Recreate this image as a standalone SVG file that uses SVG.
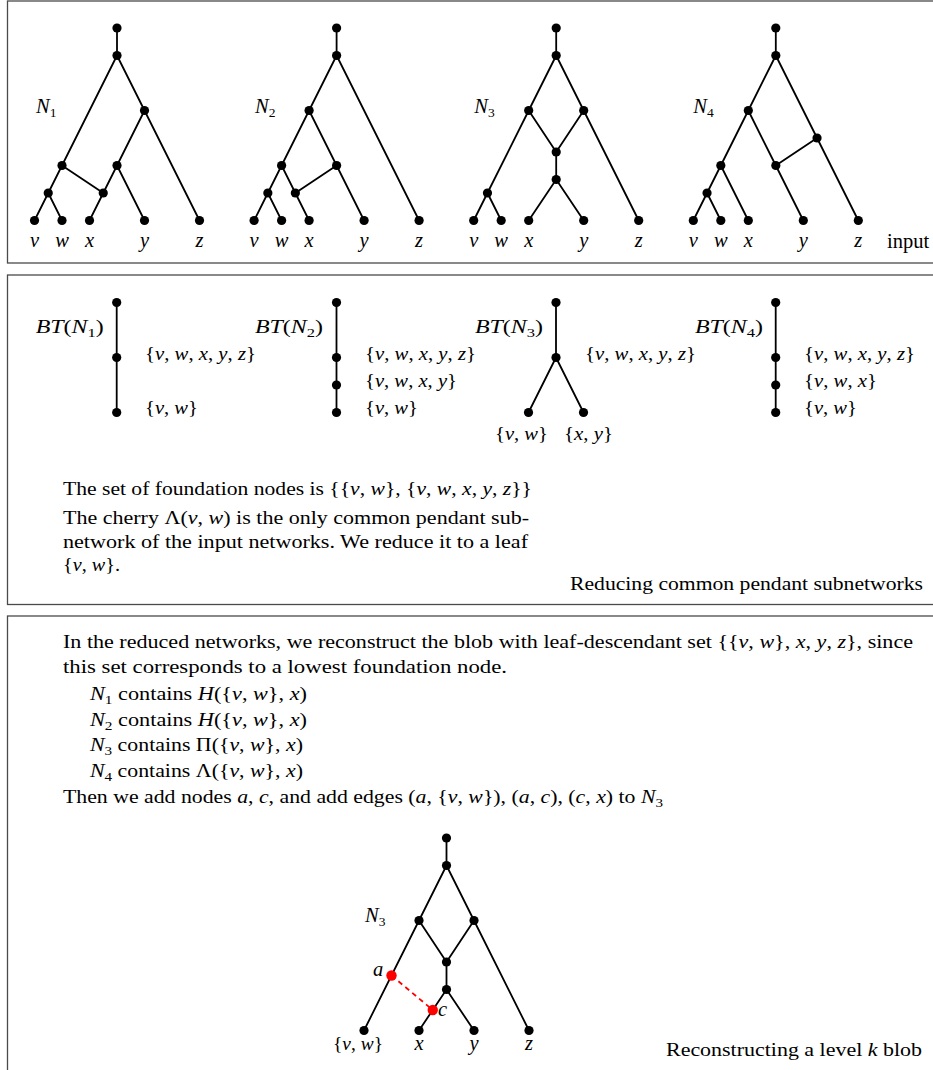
<svg xmlns="http://www.w3.org/2000/svg" width="933" height="1070" viewBox="0 0 933 1070">
<style>
text{font-family:"Liberation Serif",serif;font-size:19.5px;fill:#000}
.i{font-style:italic}
.s{font-size:13.5px}
.m{text-anchor:middle}
.big{font-size:20.5px}
.e{stroke:#000;stroke-width:1.8;fill:none;stroke-linecap:round}
.d{fill:#000}
.r{fill:#ff0000}
.frame{fill:none;stroke:#4a4a4a;stroke-width:1.3}
</style>
<defs>
<circle id="dot" r="4.6" class="d"/>
</defs>
<rect class="frame" x="7.5" y="1" width="1000" height="262"/>
<rect class="frame" x="7.5" y="275" width="1000" height="329.5"/>
<rect class="frame" x="7.5" y="616" width="1000" height="500"/>

<g id="connectors">
<g transform="translate(0,0)">
<path class="e" d="M117,28V55.5 M117,55.5L62,165.5 M117,55.5L144.5,110.5 M144.5,110.5L117,165.5 M144.5,110.5L199.5,220.5 M117,165.5L103.25,193 M117,165.5L144.5,220.5 M62,165.5L48.25,193 M62,165.5L103.25,193 M48.25,193L34.5,220.5 M48.25,193L62,220.5 M103.25,193L89.5,220.5"/>
</g>
<g transform="translate(219.6,0)">
<path class="e" d="M117,28V55.5 M117,55.5L89.5,110.5 M117,55.5L199.5,220.5 M89.5,110.5L62,165.5 M89.5,110.5L117,165.5 M62,165.5L48.25,193 M62,165.5L75.75,193 M117,165.5L75.75,193 M117,165.5L144.5,220.5 M48.25,193L34.5,220.5 M48.25,193L62,220.5 M75.75,193L89.5,220.5"/>
</g>
<g transform="translate(439.2,0)">
<path class="e" d="M117,28V55.5 M117,55.5L89.5,110.5 M117,55.5L144.5,110.5 M89.5,110.5L48.25,193 M89.5,110.5L117,152 M144.5,110.5L117,152 M144.5,110.5L199.5,220.5 M117,152V179.5 M117,179.5L89.5,220.5 M117,179.5L144.5,220.5 M48.25,193L34.5,220.5 M48.25,193L62,220.5"/>
</g>
<g transform="translate(658.8,0)">
<path class="e" d="M117,28V55.5 M117,55.5L89.5,110.5 M117,55.5L199.5,220.5 M158.25,138L117,165.5 M89.5,110.5L62,165.5 M89.5,110.5L117,165.5 M117,165.5L144.5,220.5 M62,165.5L48.25,193 M62,165.5L89.5,220.5 M48.25,193L34.5,220.5 M48.25,193L62,220.5"/>
</g>
<path class="e" d="M116.7,302.5V412.5 M336.5,302.5V412.5 M556,302.5V357.5 M556,357.5L528.5,412.5 M556,357.5L583.5,412.5 M775.7,302.5V412.5"/>
<g transform="translate(329.5,810)">
<path class="e" d="M117,28V55.5 M117,55.5L89.5,110.5 M117,55.5L144.5,110.5 M89.5,110.5L34.5,220.5 M89.5,110.5L117,152 M144.5,110.5L117,152 M144.5,110.5L199.5,220.5 M117,152V179.5 M117,179.5L89.5,220.5 M117,179.5L144.5,220.5"/>
</g>
<path d="M391.5,975.5L432.75,1010" fill="none" stroke="#ff0000" stroke-width="1.8" stroke-dasharray="5,4"/>
</g>

<g id="N1" transform="translate(0,0)">
<use href="#dot" x="117" y="28"/><use href="#dot" x="117" y="55.5"/><use href="#dot" x="144.5" y="110.5"/><use href="#dot" x="62" y="165.5"/><use href="#dot" x="117" y="165.5"/><use href="#dot" x="48.25" y="193"/><use href="#dot" x="103.25" y="193"/>
<use href="#dot" x="34.5" y="220.5"/><use href="#dot" x="62" y="220.5"/><use href="#dot" x="89.5" y="220.5"/><use href="#dot" x="144.5" y="220.5"/><use href="#dot" x="199.5" y="220.5"/>
<text class="big" x="36" y="113"><tspan class="i">N</tspan><tspan class="s" dy="4">1</tspan></text>
<text class="i m big" x="34.5" y="247">v</text><text class="i m big" x="62" y="247">w</text><text class="i m big" x="89.5" y="247">x</text><text class="i m big" x="144.5" y="247">y</text><text class="i m big" x="199.5" y="247">z</text>
</g>
<g id="N2" transform="translate(219.6,0)">
<use href="#dot" x="117" y="28"/><use href="#dot" x="117" y="55.5"/><use href="#dot" x="89.5" y="110.5"/><use href="#dot" x="62" y="165.5"/><use href="#dot" x="117" y="165.5"/><use href="#dot" x="48.25" y="193"/><use href="#dot" x="75.75" y="193"/>
<use href="#dot" x="34.5" y="220.5"/><use href="#dot" x="62" y="220.5"/><use href="#dot" x="89.5" y="220.5"/><use href="#dot" x="144.5" y="220.5"/><use href="#dot" x="199.5" y="220.5"/>
<text class="big" x="35.4" y="113"><tspan class="i">N</tspan><tspan class="s" dy="4">2</tspan></text>
<text class="i m big" x="34.5" y="247">v</text><text class="i m big" x="62" y="247">w</text><text class="i m big" x="89.5" y="247">x</text><text class="i m big" x="144.5" y="247">y</text><text class="i m big" x="199.5" y="247">z</text>
</g>
<g id="N3" transform="translate(439.2,0)">
<use href="#dot" x="117" y="28"/><use href="#dot" x="117" y="55.5"/><use href="#dot" x="89.5" y="110.5"/><use href="#dot" x="144.5" y="110.5"/><use href="#dot" x="117" y="152"/><use href="#dot" x="117" y="179.5"/><use href="#dot" x="48.25" y="193"/>
<use href="#dot" x="34.5" y="220.5"/><use href="#dot" x="62" y="220.5"/><use href="#dot" x="89.5" y="220.5"/><use href="#dot" x="144.5" y="220.5"/><use href="#dot" x="199.5" y="220.5"/>
<text class="big" x="35" y="113"><tspan class="i">N</tspan><tspan class="s" dy="4">3</tspan></text>
<text class="i m big" x="34.5" y="247">v</text><text class="i m big" x="62" y="247">w</text><text class="i m big" x="89.5" y="247">x</text><text class="i m big" x="144.5" y="247">y</text><text class="i m big" x="199.5" y="247">z</text>
</g>
<g id="N4" transform="translate(658.8,0)">
<use href="#dot" x="117" y="28"/><use href="#dot" x="117" y="55.5"/><use href="#dot" x="89.5" y="110.5"/><use href="#dot" x="158.25" y="138"/><use href="#dot" x="117" y="165.5"/><use href="#dot" x="62" y="165.5"/><use href="#dot" x="48.25" y="193"/>
<use href="#dot" x="34.5" y="220.5"/><use href="#dot" x="62" y="220.5"/><use href="#dot" x="89.5" y="220.5"/><use href="#dot" x="144.5" y="220.5"/><use href="#dot" x="199.5" y="220.5"/>
<text class="big" x="34.5" y="113"><tspan class="i">N</tspan><tspan class="s" dy="4">4</tspan></text>
<text class="i m big" x="34.5" y="247">v</text><text class="i m big" x="62" y="247">w</text><text class="i m big" x="89.5" y="247">x</text><text class="i m big" x="144.5" y="247">y</text><text class="i m big" x="199.5" y="247">z</text>
</g>
<text id="lbl-input" class="big" x="887" y="248">input</text>

<g id="BT1">
<use href="#dot" x="116.7" y="302.5"/><use href="#dot" x="116.7" y="357.5"/><use href="#dot" x="116.7" y="412.5"/>
<text x="35.7" y="333" textLength="68" lengthAdjust="spacingAndGlyphs"><tspan class="i">BT</tspan>(<tspan class="i">N</tspan><tspan class="s" dy="4">1</tspan><tspan dy="-4">)</tspan></text>
<text x="145" y="360" textLength="111" lengthAdjust="spacingAndGlyphs">{<tspan class="i">v</tspan>, <tspan class="i">w</tspan>, <tspan class="i">x</tspan>, <tspan class="i">y</tspan>, <tspan class="i">z</tspan>}</text>
<text x="145" y="414" textLength="53" lengthAdjust="spacingAndGlyphs">{<tspan class="i">v</tspan>, <tspan class="i">w</tspan>}</text>
</g>
<g id="BT2">
<use href="#dot" x="336.5" y="302.5"/><use href="#dot" x="336.5" y="357.5"/><use href="#dot" x="336.5" y="385"/><use href="#dot" x="336.5" y="412.5"/>
<text x="255" y="333" textLength="68" lengthAdjust="spacingAndGlyphs"><tspan class="i">BT</tspan>(<tspan class="i">N</tspan><tspan class="s" dy="4">2</tspan><tspan dy="-4">)</tspan></text>
<text x="365" y="360" textLength="111" lengthAdjust="spacingAndGlyphs">{<tspan class="i">v</tspan>, <tspan class="i">w</tspan>, <tspan class="i">x</tspan>, <tspan class="i">y</tspan>, <tspan class="i">z</tspan>}</text>
<text x="365" y="387" textLength="92" lengthAdjust="spacingAndGlyphs">{<tspan class="i">v</tspan>, <tspan class="i">w</tspan>, <tspan class="i">x</tspan>, <tspan class="i">y</tspan>}</text>
<text x="365" y="414" textLength="53" lengthAdjust="spacingAndGlyphs">{<tspan class="i">v</tspan>, <tspan class="i">w</tspan>}</text>
</g>
<g id="BT3">
<use href="#dot" x="556" y="302.5"/><use href="#dot" x="556" y="357.5"/><use href="#dot" x="528.5" y="412.5"/><use href="#dot" x="583.5" y="412.5"/>
<text x="475" y="333" textLength="68" lengthAdjust="spacingAndGlyphs"><tspan class="i">BT</tspan>(<tspan class="i">N</tspan><tspan class="s" dy="4">3</tspan><tspan dy="-4">)</tspan></text>
<text x="585" y="360" textLength="111" lengthAdjust="spacingAndGlyphs">{<tspan class="i">v</tspan>, <tspan class="i">w</tspan>, <tspan class="i">x</tspan>, <tspan class="i">y</tspan>, <tspan class="i">z</tspan>}</text>
<text x="495" y="440" textLength="53" lengthAdjust="spacingAndGlyphs">{<tspan class="i">v</tspan>, <tspan class="i">w</tspan>}</text>
<text x="564" y="440" textLength="49" lengthAdjust="spacingAndGlyphs">{<tspan class="i">x</tspan>, <tspan class="i">y</tspan>}</text>
</g>
<g id="BT4">
<use href="#dot" x="775.7" y="302.5"/><use href="#dot" x="775.7" y="357.5"/><use href="#dot" x="775.7" y="385"/><use href="#dot" x="775.7" y="412.5"/>
<text x="695" y="333" textLength="68" lengthAdjust="spacingAndGlyphs"><tspan class="i">BT</tspan>(<tspan class="i">N</tspan><tspan class="s" dy="4">4</tspan><tspan dy="-4">)</tspan></text>
<text x="804" y="360" textLength="111" lengthAdjust="spacingAndGlyphs">{<tspan class="i">v</tspan>, <tspan class="i">w</tspan>, <tspan class="i">x</tspan>, <tspan class="i">y</tspan>, <tspan class="i">z</tspan>}</text>
<text x="804" y="387" textLength="73" lengthAdjust="spacingAndGlyphs">{<tspan class="i">v</tspan>, <tspan class="i">w</tspan>, <tspan class="i">x</tspan>}</text>
<text x="804" y="414" textLength="53" lengthAdjust="spacingAndGlyphs">{<tspan class="i">v</tspan>, <tspan class="i">w</tspan>}</text>
</g>
<g id="mid-text">
<text x="63" y="495" textLength="469" lengthAdjust="spacingAndGlyphs">The set of foundation nodes is {{<tspan class="i">v</tspan>, <tspan class="i">w</tspan>}, {<tspan class="i">v</tspan>, <tspan class="i">w</tspan>, <tspan class="i">x</tspan>, <tspan class="i">y</tspan>, <tspan class="i">z</tspan>}}</text>
<text x="63" y="524" textLength="466" lengthAdjust="spacingAndGlyphs">The cherry Λ(<tspan class="i">v</tspan>, <tspan class="i">w</tspan>) is the only common pendant sub-</text>
<text x="63" y="547.5" textLength="465" lengthAdjust="spacingAndGlyphs">network of the input networks. We reduce it to a leaf</text>
<text x="63" y="571" textLength="57" lengthAdjust="spacingAndGlyphs">{<tspan class="i">v</tspan>, <tspan class="i">w</tspan>}.</text>
<text x="570" y="590" textLength="353" lengthAdjust="spacingAndGlyphs">Reducing common pendant subnetworks</text>
</g>

<g id="bottom-text">
<text x="63" y="648" textLength="850" lengthAdjust="spacingAndGlyphs">In the reduced networks, we reconstruct the blob with leaf-descendant set {{<tspan class="i">v</tspan>, <tspan class="i">w</tspan>}, <tspan class="i">x</tspan>, <tspan class="i">y</tspan>, <tspan class="i">z</tspan>}, since</text>
<text x="63" y="673" textLength="444" lengthAdjust="spacingAndGlyphs">this set corresponds to a lowest foundation node.</text>
<text x="90" y="699.5" textLength="217" lengthAdjust="spacingAndGlyphs"><tspan class="i">N</tspan><tspan class="s" dy="4">1</tspan><tspan dy="-4"> contains </tspan><tspan class="i">H</tspan>({<tspan class="i">v</tspan>, <tspan class="i">w</tspan>}, <tspan class="i">x</tspan>)</text>
<text x="90" y="725.5" textLength="217" lengthAdjust="spacingAndGlyphs"><tspan class="i">N</tspan><tspan class="s" dy="4">2</tspan><tspan dy="-4"> contains </tspan><tspan class="i">H</tspan>({<tspan class="i">v</tspan>, <tspan class="i">w</tspan>}, <tspan class="i">x</tspan>)</text>
<text x="90" y="751" textLength="213" lengthAdjust="spacingAndGlyphs"><tspan class="i">N</tspan><tspan class="s" dy="4">3</tspan><tspan dy="-4"> contains </tspan>Π({<tspan class="i">v</tspan>, <tspan class="i">w</tspan>}, <tspan class="i">x</tspan>)</text>
<text x="90" y="777" textLength="213" lengthAdjust="spacingAndGlyphs"><tspan class="i">N</tspan><tspan class="s" dy="4">4</tspan><tspan dy="-4"> contains </tspan>Λ({<tspan class="i">v</tspan>, <tspan class="i">w</tspan>}, <tspan class="i">x</tspan>)</text>
<text x="63" y="802.5" textLength="600" lengthAdjust="spacingAndGlyphs">Then we add nodes <tspan class="i">a</tspan>, <tspan class="i">c</tspan>, and add edges (<tspan class="i">a</tspan>, {<tspan class="i">v</tspan>, <tspan class="i">w</tspan>}), (<tspan class="i">a</tspan>, <tspan class="i">c</tspan>), (<tspan class="i">c</tspan>, <tspan class="i">x</tspan>) to <tspan class="i">N</tspan><tspan class="s" dy="4">3</tspan></text>
<text x="666" y="1056" textLength="256" lengthAdjust="spacingAndGlyphs">Reconstructing a level <tspan class="i">k</tspan> blob</text>
</g>
<g id="N3-reconstructed">
<use href="#dot" x="446.5" y="838"/><use href="#dot" x="446.5" y="865.5"/><use href="#dot" x="419" y="920.5"/><use href="#dot" x="474" y="920.5"/><use href="#dot" x="446.5" y="962"/><use href="#dot" x="446.5" y="989.5"/>
<use href="#dot" x="364" y="1030.5"/><use href="#dot" x="419" y="1030.5"/><use href="#dot" x="474" y="1030.5"/><use href="#dot" x="529" y="1030.5"/>
<circle id="node-a" class="r" cx="391.5" cy="975.5" r="5.2"/>
<circle id="node-c" class="r" cx="432.75" cy="1010" r="5.2"/>
<text class="big" x="365" y="922"><tspan class="i">N</tspan><tspan class="s" dy="4">3</tspan></text>
<text class="i big" x="373" y="976">a</text>
<text class="i big" x="438" y="1016">c</text>
<text x="333" y="1050" textLength="50" lengthAdjust="spacingAndGlyphs">{<tspan class="i">v</tspan>, <tspan class="i">w</tspan>}</text>
<text class="i m big" x="419" y="1050">x</text><text class="i m big" x="474" y="1050">y</text><text class="i m big" x="529" y="1050">z</text>
</g>
</svg>
